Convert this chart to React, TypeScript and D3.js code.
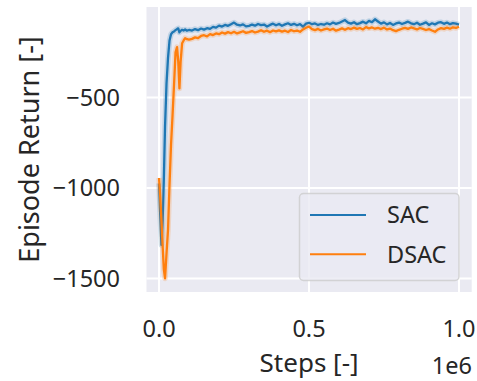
import { useEffect, useRef } from "react"
import * as d3 from "d3"

// steps in units of 1e6
const steps = [
  0, 0.004, 0.008, 0.012, 0.016, 0.02, 0.025, 0.03, 0.035, 0.04, 0.045, 0.05, 0.055, 0.06, 0.064, 0.068, 0.072,
  0.077, 0.082, 0.087, 0.093, 0.1,
  0.11, 0.12, 0.13, 0.14, 0.15, 0.16, 0.17, 0.18, 0.19, 0.2,
  0.21, 0.22, 0.23, 0.24, 0.25, 0.26, 0.27, 0.28, 0.29, 0.3,
  0.31, 0.32, 0.33, 0.34, 0.35, 0.36, 0.37, 0.38, 0.39, 0.4,
  0.41, 0.42, 0.43, 0.44, 0.45, 0.46, 0.47, 0.48, 0.49, 0.5,
  0.51, 0.52, 0.53, 0.54, 0.55, 0.56, 0.57, 0.58, 0.59, 0.6,
  0.61, 0.62, 0.63, 0.64, 0.65, 0.66, 0.67, 0.68, 0.69, 0.7,
  0.71, 0.72, 0.73, 0.74, 0.75, 0.76, 0.77, 0.78, 0.79, 0.8,
  0.81, 0.82, 0.83, 0.84, 0.85, 0.86, 0.87, 0.88, 0.89, 0.9,
  0.91, 0.92, 0.93, 0.94, 0.95, 0.96, 0.97, 0.98, 0.99, 1.0,
]

const sacReturn = [
  -975, -1150, -1315, -1180, -950, -660, -420, -280, -185, -150, -140, -135, -128, -122, -118, -140, -132,
  -126, -130, -124, -131, -127,
  -130, -122, -128, -119, -125, -117, -121, -110, -114, -103,
  -108, -99, -104, -95, -86, -98, -102, -96, -107, -104,
  -97, -103, -94, -100, -97, -108, -99, -92, -101, -94,
  -104, -96, -90, -99, -93, -101, -95, -109, -92, -87,
  -95, -91, -99, -94, -98, -90, -96, -86, -93, -88,
  -80, -72, -86, -92, -84, -95, -89, -81, -90, -77,
  -84, -68, -80, -92, -85, -96, -88, -99, -91, -86,
  -94, -88, -81, -90, -95, -87, -98, -92, -85, -99,
  -90, -96, -87, -84, -93, -86, -95, -89, -92, -97,
]

const dsacReturn = [
  -945, -1050, -1180, -1320, -1450, -1500, -1360, -1230, -980, -760, -600, -430, -250, -222, -300, -450, -300,
  -200, -185, -172, -178, -180,
  -176, -168, -172, -160, -156, -162, -150, -155, -146, -150,
  -141, -147, -139, -145, -137, -146, -140, -134, -143, -139,
  -133, -141, -136, -128, -137, -131, -139, -130, -135, -129,
  -136, -131, -138, -127, -134, -130, -137, -124, -115, -108,
  -122, -128, -121, -130, -124, -119, -127, -120, -131, -125,
  -118, -126, -117, -122, -114, -121, -116, -124, -111, -118,
  -113, -120, -115, -122, -114, -124, -119, -128, -133, -126,
  -120, -115, -121, -113, -118, -124, -116, -121, -127, -122,
  -130, -137, -124, -117, -121, -114, -120, -112, -116, -109,
]

const yTicks = [-1500, -1000, -500]
const xTicks = [0, 0.5, 1.0]

const series = [
  { label: "SAC", color: "#1f77b4", values: sacReturn },
  { label: "DSAC", color: "#ff7f0e", values: dsacReturn },
]

const FONT = "'Noto Sans', sans-serif"
const TEXT = "#262626"

export default function App() {
  const svgRef = useRef<SVGSVGElement>(null)

  useEffect(() => {
    if (!svgRef.current) return
    const svg = d3.select(svgRef.current)
    svg.selectAll("*").remove()

    const left = 146.5
    const right = 471.7
    const top = 7
    const bottom = 292

    const x = d3.scaleLinear().domain([-0.0418, 1.0424]).range([left, right])
    const y = d3.scaleLinear().domain([-1575, 0]).range([bottom, top])

    svg
      .append("rect")
      .attr("x", left)
      .attr("y", top)
      .attr("width", right - left)
      .attr("height", bottom - top)
      .attr("fill", "#EAEAF2")

    svg
      .selectAll(".gy")
      .data(yTicks)
      .enter()
      .append("line")
      .attr("x1", left)
      .attr("x2", right)
      .attr("y1", (d) => y(d))
      .attr("y2", (d) => y(d))
      .attr("stroke", "white")
      .attr("stroke-width", 2)

    svg
      .selectAll(".gx")
      .data(xTicks)
      .enter()
      .append("line")
      .attr("y1", top)
      .attr("y2", bottom)
      .attr("x1", (d) => x(d))
      .attr("x2", (d) => x(d))
      .attr("stroke", "white")
      .attr("stroke-width", 2)

    const plot = svg.append("g")
    plot
      .append("clipPath")
      .attr("id", "clip")
      .append("rect")
      .attr("x", left)
      .attr("y", top)
      .attr("width", right - left)
      .attr("height", bottom - top)

    series.forEach((s) => {
      const line = d3
        .line<number>()
        .x((_, i) => x(steps[i]))
        .y((d) => y(d))

      // light halo standing in for the confidence band
      plot
        .append("path")
        .datum(s.values)
        .attr("clip-path", "url(#clip)")
        .attr("fill", "none")
        .attr("stroke", s.color)
        .attr("stroke-opacity", 0.2)
        .attr("stroke-width", 5.5)
        .attr("stroke-linejoin", "round")
        .attr("d", line)

      plot
        .append("path")
        .datum(s.values)
        .attr("clip-path", "url(#clip)")
        .attr("fill", "none")
        .attr("stroke", s.color)
        .attr("stroke-width", 2.3)
        .attr("stroke-linejoin", "round")
        .attr("d", line)
    })

    // tick labels
    svg
      .selectAll(".ty")
      .data(yTicks)
      .enter()
      .append("text")
      .attr("x", 120)
      .attr("y", (d) => y(d))
      .attr("dy", "0.36em")
      .attr("text-anchor", "end")
      .style("font-family", FONT)
      .style("font-size", "23.5px")
      .style("fill", TEXT)
      .text((d) => String(d).replace("-", "\u2212"))

    svg
      .selectAll(".tx")
      .data(xTicks)
      .enter()
      .append("text")
      .attr("x", (d) => x(d))
      .attr("y", 337)
      .attr("text-anchor", "middle")
      .style("font-family", FONT)
      .style("font-size", "23.5px")
      .style("fill", TEXT)
      .text((d) => d.toFixed(1))

    svg
      .append("text")
      .attr("x", 472)
      .attr("y", 374)
      .attr("text-anchor", "end")
      .style("font-family", FONT)
      .style("font-size", "23.5px")
      .style("fill", TEXT)
      .text("1e6")

    svg
      .append("text")
      .attr("x", (left + right) / 2)
      .attr("y", 372)
      .attr("text-anchor", "middle")
      .style("font-family", FONT)
      .style("font-size", "26px")
      .style("fill", TEXT)
      .text("Steps [-]")

    svg
      .append("text")
      .attr("transform", `translate(39, ${(top + bottom) / 2}) rotate(-90)`)
      .attr("text-anchor", "middle")
      .style("font-family", FONT)
      .style("font-size", "27px")
      .style("fill", TEXT)
      .text("Episode Return [-]")

    // legend
    const legend = svg.append("g")
    legend
      .append("rect")
      .attr("x", 299.5)
      .attr("y", 193.5)
      .attr("width", 159.5)
      .attr("height", 87)
      .attr("rx", 4)
      .attr("fill", "#EAEAF2")
      .attr("fill-opacity", 0.8)
      .attr("stroke", "#cccccc")
      .attr("stroke-opacity", 0.8)
      .attr("stroke-width", 1.5)

    const item = legend
      .selectAll(".li")
      .data(series)
      .enter()
      .append("g")
      .attr("transform", (_, i) => `translate(0, ${215 + i * 39.3})`)

    item
      .append("line")
      .attr("x1", 310)
      .attr("x2", 366)
      .attr("stroke", (d) => d.color)
      .attr("stroke-width", 2)

    item
      .append("text")
      .attr("x", 387)
      .attr("dy", "0.36em")
      .style("font-family", FONT)
      .style("font-size", "23.5px")
      .style("fill", TEXT)
      .text((d) => d.label)
  }, [])

  return (
    <svg
      ref={svgRef}
      width={477}
      height={381}
      style={{ position: "absolute", left: 0, top: 0, background: "white" }}
    />
  )
}
